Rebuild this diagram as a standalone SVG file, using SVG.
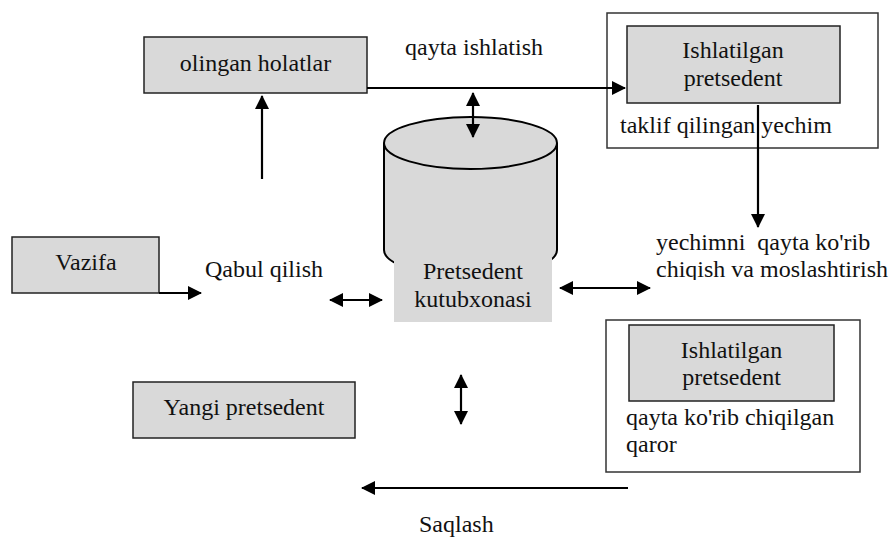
<svg xmlns="http://www.w3.org/2000/svg" width="891" height="539" viewBox="0 0 891 539" font-family="Liberation Serif, serif">
<defs>
<marker id="ah" viewBox="0 0 14 14" markerWidth="14" markerHeight="14" refX="13" refY="7" orient="auto-start-reverse" markerUnits="userSpaceOnUse">
<path d="M0,0 L14,7 L0,14 z" fill="#000"/>
</marker>
<clipPath id="clipY"><rect x="600" y="200" width="291" height="80"/></clipPath>
</defs>
<rect width="891" height="539" fill="#fff"/>

<g id="olingan" font-family="Liberation Serif, serif">
<rect x="144" y="37" width="223" height="56" fill="#d9d9d9" stroke="#222" stroke-width="1.5"/>
<text font-family="Liberation Serif, serif" font-size="24" fill="#111" text-anchor="middle" x="255.5" y="71">olingan holatlar</text>
</g>

<g id="ishlatilgan-top" font-family="Liberation Serif, serif">
<rect x="607" y="13" width="271" height="135" fill="#fff" stroke="#333" stroke-width="1.5"/>
<rect x="627" y="26" width="213" height="77" fill="#d9d9d9" stroke="#222" stroke-width="1.5"/>
<text font-family="Liberation Serif, serif" font-size="24" fill="#111" text-anchor="middle" x="733" y="58">Ishlatilgan</text>
<text font-family="Liberation Serif, serif" font-size="24" fill="#111" text-anchor="middle" x="733" y="86">pretsedent</text>
<text font-family="Liberation Serif, serif" font-size="24" fill="#111" x="620" y="133">taklif qilingan yechim</text>
</g>

<g id="kutubxona" font-family="Liberation Serif, serif">
<path d="M384,143 L384,250 A86.5,26 0 0 0 557,250 L557,143" fill="#d9d9d9" stroke="#000" stroke-width="2"/>
<ellipse cx="470.5" cy="143" rx="86.5" ry="26" fill="#d9d9d9" stroke="#000" stroke-width="2"/>
<rect x="394" y="258" width="158" height="64" fill="#d9d9d9"/>
<text font-family="Liberation Serif, serif" font-size="24" fill="#111" text-anchor="middle" x="473" y="279">Pretsedent</text>
<text font-family="Liberation Serif, serif" font-size="24" fill="#111" text-anchor="middle" x="473" y="307">kutubxonasi</text>
</g>

<g id="vazifa" font-family="Liberation Serif, serif">
<rect x="12" y="237" width="147" height="56" fill="#d9d9d9" stroke="#222" stroke-width="1.5"/>
<text font-family="Liberation Serif, serif" font-size="24" fill="#111" text-anchor="middle" x="86" y="270">Vazifa</text>
</g>

<g id="yangi" font-family="Liberation Serif, serif">
<rect x="133" y="382" width="222" height="56" fill="#d9d9d9" stroke="#222" stroke-width="1.5"/>
<text font-family="Liberation Serif, serif" font-size="24" fill="#111" text-anchor="middle" x="244" y="415">Yangi pretsedent</text>
</g>

<g id="ishlatilgan-bottom" font-family="Liberation Serif, serif">
<rect x="606" y="320" width="254" height="152" fill="#fff" stroke="#333" stroke-width="1.5"/>
<rect x="629" y="325" width="205" height="76" fill="#d9d9d9" stroke="#222" stroke-width="1.5"/>
<text font-family="Liberation Serif, serif" font-size="24" fill="#111" text-anchor="middle" x="731.5" y="358">Ishlatilgan</text>
<text font-family="Liberation Serif, serif" font-size="24" fill="#111" text-anchor="middle" x="731.5" y="385">pretsedent</text>
<text font-family="Liberation Serif, serif" font-size="24" fill="#111" x="626" y="425">qayta ko'rib chiqilgan</text>
<text font-family="Liberation Serif, serif" font-size="24" fill="#111" x="626" y="452">qaror</text>
</g>

<g id="labels" font-family="Liberation Serif, serif">
<text font-family="Liberation Serif, serif" font-size="24" fill="#111" x="405" y="55">qayta ishlatish</text>
<text font-family="Liberation Serif, serif" font-size="24" fill="#111" x="205" y="277">Qabul qilish</text>
<g clip-path="url(#clipY)">
<text font-family="Liberation Serif, serif" font-size="24" fill="#111" x="656" y="250" xml:space="preserve">yechimni  qayta ko'rib</text>
<text font-family="Liberation Serif, serif" font-size="24" fill="#111" x="656" y="277">chiqish va moslashtirish</text>
</g>
<text font-family="Liberation Serif, serif" font-size="24" fill="#111" x="419" y="532">Saqlash</text>
</g>

<g id="connectors" fill="none" stroke="#000" stroke-width="2.2">
<path d="M367,88 L625,88" marker-end="url(#ah)"/>
<path d="M758,105 L758,227" marker-end="url(#ah)"/>
<path d="M473,93 L473,137" marker-start="url(#ah)" marker-end="url(#ah)"/>
<path d="M262,179 L262,96" marker-end="url(#ah)"/>
<path d="M159,293 L201,293" marker-end="url(#ah)"/>
<path d="M330,300 L382,300" marker-start="url(#ah)" marker-end="url(#ah)"/>
<path d="M560,288 L650,288" marker-start="url(#ah)" marker-end="url(#ah)"/>
<path d="M461,375 L461,424" marker-start="url(#ah)" marker-end="url(#ah)"/>
<path d="M628,488 L362,488" marker-end="url(#ah)"/>
</g>
</svg>
